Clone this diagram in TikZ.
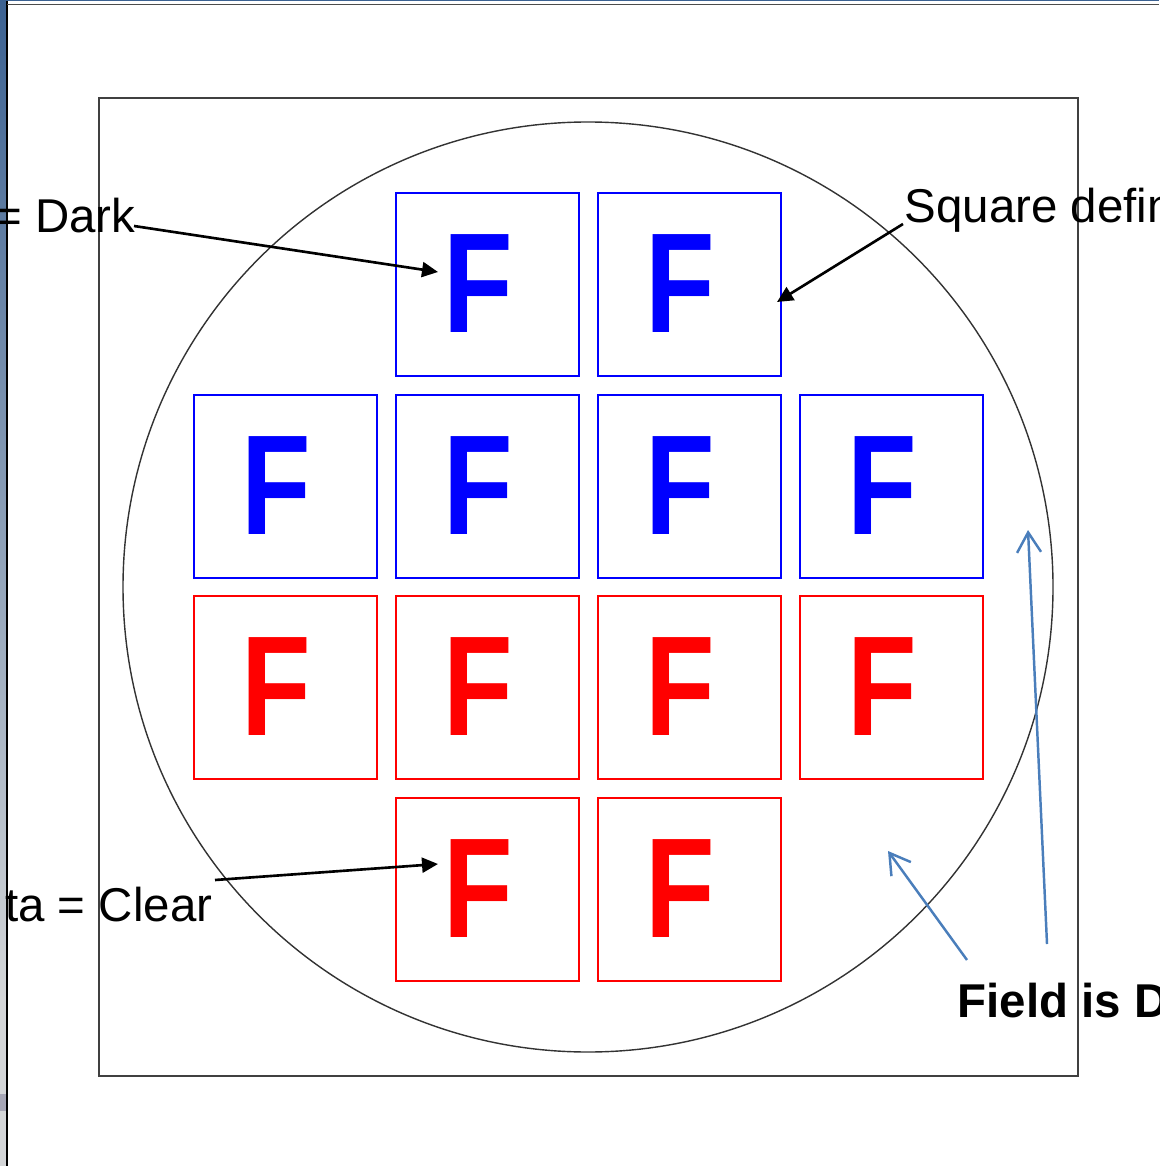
\documentclass[tikz,border=0pt]{standalone}
\usepackage{fontspec}
\setmainfont{Liberation Sans}
\usepackage{tikz}
\usetikzlibrary{arrows.meta, calc}

\definecolor{fieldblue}{RGB}{74,126,187}
\definecolor{wintop}{RGB}{60,98,146}
\definecolor{winmid}{RGB}{85,145,195}
\definecolor{winlow}{RGB}{212,214,216}
\definecolor{winpatch}{RGB}{166,166,182}

\begin{document}
\begin{tikzpicture}[x=0.1mm, y=-0.1mm,
  tile/.style={
    draw, line width=0.45pt, minimum size=18.3mm, inner sep=0pt
  },
  letter/.style={
    font=\fontsize{40.5}{41}\selectfont\bfseries, inner sep=0pt, xscale=0.8
  },
  lbl/.style={
    font=\fontsize{13.5}{16}\selectfont, inner sep=0pt, text=black
  },
  pointer/.style={
    -{Triangle[length=1.6mm, width=1.5mm]},
    line width=0.75pt, draw=black
  },
  hint/.style={
    -{Straight Barb[length=2mm, width=2.4mm]},
    line width=0.7pt, draw=fieldblue
  }
]
  \useasboundingbox (0,0) rectangle (1159,1166);
  \clip (0,0) rectangle (1159,1166);

  % Window edge
  \shade[top color=wintop, middle color=winmid, bottom color=winlow] (0,0) rectangle (6.5,1000);
  \fill[winlow] (0,1000) rectangle (6.5,1166);
  \fill[winpatch] (0,1094) rectangle (6.5,1111);
  \draw[line width=0.35pt] (7,0) -- (7,1166);
  \fill[wintop] (0,0) rectangle (1159,1.5);
  \draw[black!70, line width=0.5pt] (7,4.5) -- (1159,4.5);

  % Field and wafer
  \draw[black!75, line width=0.55pt] (99,98) rectangle (1078,1076);
  \draw[black!80, line width=0.4pt] (588,587) circle[radius=465];

  % Tiles (blue on top, red below)
  \foreach \r/\y/\tint/\first/\last in {1/284.5/blue/2/3, 2/486.5/blue/1/4,
                                        3/687.5/red/1/4, 4/889.5/red/2/3} {
    \foreach \c in {\first,...,\last} {
      \node[tile, draw=\tint] (t\r\c) at ({83.5+202*\c}, \y) {};
      \node[letter, text=\tint] (f\r\c) at ($(t\r\c)+(-9,-1)$) {F};
    }
  }

  % Labels
  \node[lbl, anchor=base east] (dark) at (136,233) {= Dark};
  \node[lbl, anchor=base east] (clear) at (213,921) {ta = Clear};
  \node[lbl, anchor=base west] (square) at (904,223) {Square defin};
  \node[lbl, font=\fontsize{13.5}{16}\selectfont\bfseries, anchor=base west] (field) at (957,1017) {Field is D};

  \coordinate (darkTip) at (438,272);
  \coordinate (squareTip) at (777,302);
  \coordinate (clearTip) at (438,864);
  \coordinate (gapTip) at (888,851);
  \coordinate (ringTip) at (1028,530);

  \draw[pointer] ($(dark.base east)+(-2,-7)$) -- (darkTip);
  \draw[pointer] ($(square.base west)+(-1,1)$) -- (squareTip);
  \draw[pointer] ($(clear.base east)+(2,-41)$) -- (clearTip);
  \draw[hint] ($(field.base west)+(10,-57)$) -- (gapTip);
  \draw[hint] ($(field.base west)+(90,-73)$) -- (ringTip);

\end{tikzpicture}
\end{document}
